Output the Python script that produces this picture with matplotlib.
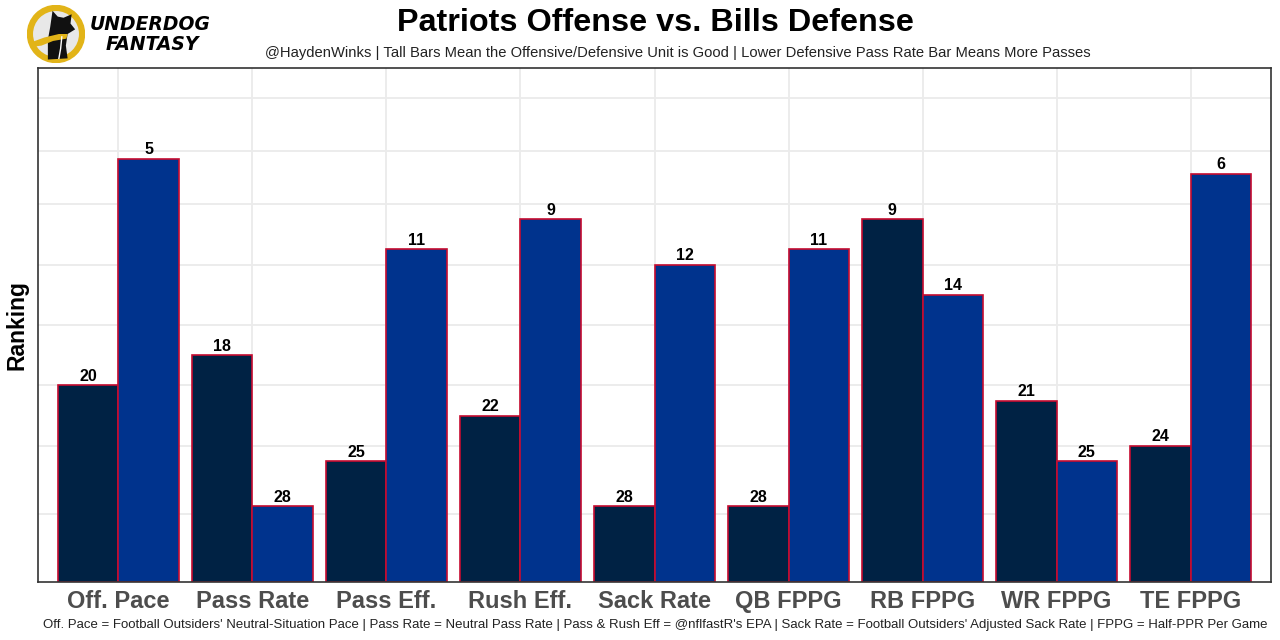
import matplotlib
matplotlib.use("Agg")
import matplotlib.pyplot as plt
import numpy as np
from matplotlib.patches import Circle, Polygon

plt.rcParams['font.family'] = ['Liberation Sans', 'DejaVu Sans']

categories = ["Off. Pace", "Pass Rate", "Pass Eff.", "Rush Eff.", "Sack Rate",
              "QB FPPG", "RB FPPG", "WR FPPG", "TE FPPG"]
offense_rank = [20, 18, 25, 22, 28, 28, 9, 21, 24]   # Patriots offense
defense_rank = [5, 28, 11, 9, 12, 11, 14, 25, 6]     # Bills defense
grid_levels = [4.5, 9, 13, 17, 21, 25, 28.5, 32]
n_teams = 32

off_color = "#002244"
def_color = "#00338D"
edge_color = "#C60C30"

W, H = 1280, 640
fig = plt.figure(figsize=(12.8, 6.4), dpi=100)
fig.patch.set_facecolor("white")

ax = fig.add_axes([38 / W, (H - 582) / H, (1271 - 38) / W, (582 - 68) / H])
x = np.arange(1, len(categories) + 1)
off_h = [n_teams + 1 - r for r in offense_rank]
def_h = [n_teams + 1 - r for r in defense_rank]
bw = 0.45

for g in grid_levels:
    ax.axhline(g, color="#ebebeb", lw=1.3, zorder=0)
for xi in x:
    ax.axvline(xi, color="#ebebeb", lw=1.3, zorder=0)

ax.bar(x - bw / 2, off_h, width=bw, color=off_color, edgecolor=edge_color, linewidth=1.2, zorder=2)
ax.bar(x + bw / 2, def_h, width=bw, color=def_color, edgecolor=edge_color, linewidth=1.2, zorder=2)

for xi, h, r in zip(x - bw / 2, off_h, offense_rank):
    ax.text(xi, h + 0.1, str(r), ha="center", va="bottom", fontsize=11.5, fontweight="bold", color="black")
for xi, h, r in zip(x + bw / 2, def_h, defense_rank):
    ax.text(xi, h + 0.1, str(r), ha="center", va="bottom", fontsize=11.5, fontweight="bold", color="black")

ax.set_xlim(0.4, len(categories) + 0.6)
ax.set_ylim(0, 34)
ax.set_xticks(x)
ax.set_xticklabels(categories, fontsize=17, fontweight="bold", color="#4d4d4d")
ax.tick_params(axis="x", length=0, pad=5.5)
ax.set_yticks([])
for s in ax.spines.values():
    s.set_color("#333333")
    s.set_linewidth(1.2)

fig.text(17 / W, 1 - 325 / H, "Ranking", rotation=90, ha="center", va="center",
         fontsize=16.5, fontweight="bold", color="black")

fig.text(655 / W, 1 - 23 / H, "Patriots Offense vs. Bills Defense", ha="center", va="center",
         fontsize=23.3, fontweight="bold", color="black")
fig.text(678 / W, 1 - 53 / H,
         "@HaydenWinks | Tall Bars Mean the Offensive/Defensive Unit is Good | Lower Defensive Pass Rate Bar Means More Passes",
         ha="center", va="center", fontsize=10.6, color="#222222")
fig.text(655 / W, 1 - 625 / H,
         "Off. Pace = Football Outsiders' Neutral-Situation Pace | Pass Rate = Neutral Pass Rate | Pass & Rush Eff = @nflfastR's EPA | Sack Rate = Football Outsiders' Adjusted Sack Rate | FPPG = Half-PPR Per Game",
         ha="center", va="center", fontsize=9.55, color="#222222")

# Logo
lax = fig.add_axes([27 / W, 1 - 63 / H, 58 / W, 58 / H])
lax.set_xlim(0, 1)
lax.set_ylim(0, 1)
lax.set_aspect("equal")
lax.axis("off")
lax.add_patch(Circle((0.5, 0.5), 0.45, facecolor="#e8e8e8", edgecolor="#E2B418", lw=4.5))
dog = Polygon([(0.36, 0.06), (0.36, 0.40), (0.40, 0.62), (0.44, 0.90), (0.53, 0.80),
               (0.63, 0.78), (0.77, 0.84), (0.75, 0.68), (0.83, 0.58), (0.70, 0.50),
               (0.67, 0.30), (0.70, 0.08)], closed=True, facecolor="#111111", edgecolor="none")
lax.add_patch(dog)
scarf = Polygon([(0.08, 0.36), (0.30, 0.44), (0.55, 0.50), (0.70, 0.50), (0.68, 0.42),
                 (0.45, 0.38), (0.25, 0.30), (0.10, 0.28)],
                closed=True, facecolor="#E2B418", edgecolor="none")
lax.add_patch(scarf)
lax.plot([0.60, 0.58, 0.55], [0.45, 0.25, 0.08], color="white", lw=1)
fig.text(150 / W, 1 - 24 / H, "UNDERDOG", ha="center", va="center", fontsize=13.5,
         fontweight="bold", fontstyle="oblique", family=["DejaVu Sans"], color="black")
fig.text(152 / W, 1 - 45 / H, "FANTASY", ha="center", va="center", fontsize=13.5,
         fontweight="bold", fontstyle="oblique", family=["DejaVu Sans"], color="black")

fig.savefig("out.png", dpi=100, facecolor="white")
